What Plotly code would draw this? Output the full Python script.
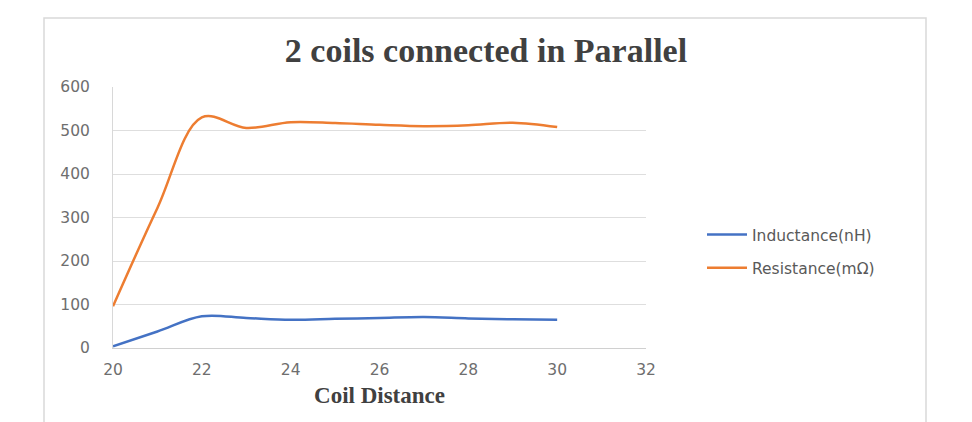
import plotly.graph_objects as go

# Coil separation and measured values
coil_distance = [20, 21, 22, 23, 24, 25, 26, 27, 28, 29, 30]
inductance_nH = [4, 38, 73, 69, 65, 67, 69, 71, 68, 66, 65]
resistance_mohm = [96, 322, 530, 506, 519, 517, 513, 510, 512, 518, 508]

x_ticks = [20, 22, 24, 26, 28, 30, 32]
y_ticks = [0, 100, 200, 300, 400, 500, 600]

W, H = 972, 422
L, R, T, B = 113, 326, 87, 74
pw, ph = W - L - R, H - T - B


def px_x(px):
    return (px - L) / pw


def px_y(py):
    return (H - B - py) / ph


fig = go.Figure()
fig.add_trace(go.Scatter(
    x=coil_distance, y=inductance_nH, mode="lines", name="Inductance(nH)",
    line=dict(color="#4472C4", width=2.5, shape="spline", smoothing=1.0),
    legendgroup="ind",
))
fig.add_trace(go.Scatter(
    x=coil_distance, y=resistance_mohm, mode="lines", name="Resistance(mΩ)",
    line=dict(color="#ED7D31", width=2.5, shape="spline", smoothing=1.0),
    legendgroup="res",
))

tick_font = dict(family="DejaVu Sans, sans-serif", size=15.5, color="#6e6e6e")
serif = "Liberation Serif, Times New Roman, serif"

fig.update_layout(
    width=W, height=H,
    margin=dict(l=L, r=R, t=T, b=B),
    paper_bgcolor="white", plot_bgcolor="white",
    title=dict(
        text="<b>2 coils connected in Parallel</b>",
        x=px_x(486), xref="paper", xanchor="center",
        y=1 - 50 / H, yanchor="middle",
        font=dict(family=serif, size=34, color="#404040"),
    ),
    xaxis=dict(
        range=[20, 32], tickvals=x_ticks, ticktext=[str(v) for v in x_ticks],
        showgrid=False, zeroline=False,
        showline=True, linecolor="#d0d0d0", linewidth=1,
        tickfont=tick_font, ticks="", ticklabelstandoff=7,
        title=dict(
            text="<b>Coil Distance</b>", standoff=9,
            font=dict(family=serif, size=23, color="#404040"),
        ),
    ),
    yaxis=dict(
        range=[0, 600], tickvals=y_ticks, ticktext=[str(v) for v in y_ticks],
        showgrid=True, gridcolor="#dedede", gridwidth=1, zeroline=False,
        showline=True, linecolor="#d8d8d8", linewidth=1,
        tickfont=tick_font, ticks="", ticklabelstandoff=19,
    ),
    legend=dict(
        x=px_x(702), xanchor="left", y=px_y(218), yanchor="top",
        font=dict(family="DejaVu Sans, sans-serif", size=15.5, color="#595959"),
        bgcolor="rgba(0,0,0,0)", tracegroupgap=10, itemwidth=40,
    ),
    showlegend=True,
)

# Light outer chart frame
fig.add_shape(
    type="rect", xref="paper", yref="paper",
    x0=px_x(44), x1=px_x(926), y0=px_y(440), y1=px_y(18),
    line=dict(color="#d9d9d9", width=1.5), fillcolor="rgba(0,0,0,0)", layer="below",
)

fig.write_html("out.html")
